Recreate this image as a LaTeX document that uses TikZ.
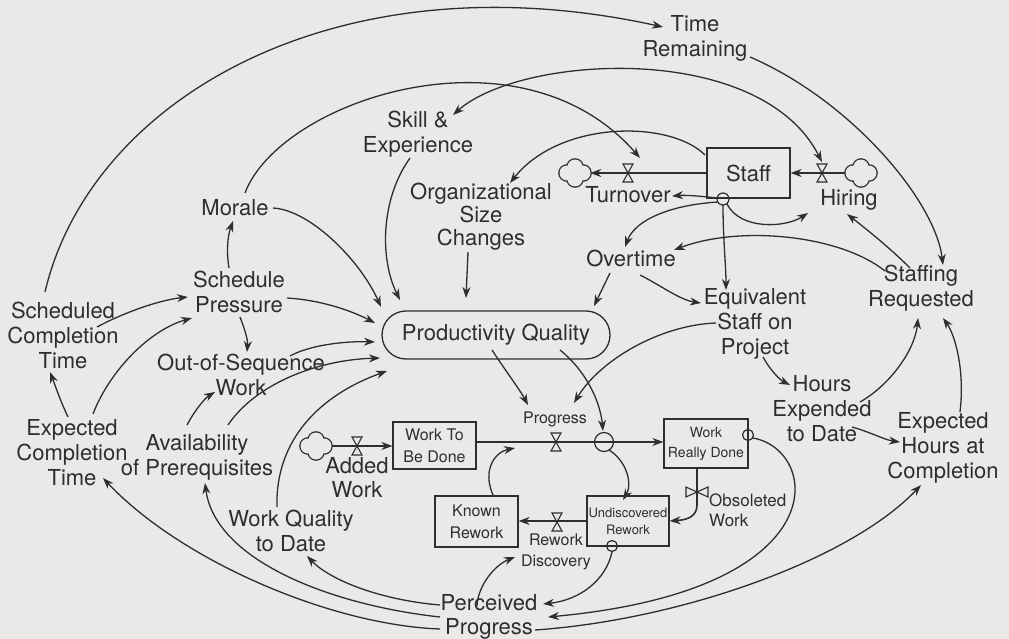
\documentclass[tikz,border=0pt]{standalone}
\usepackage{fontspec}
\setmainfont{TeX Gyre Heros}
\usetikzlibrary{arrows.meta,calc}
\definecolor{bg}{RGB}{233,233,231}
\definecolor{ink}{RGB}{46,46,46}
\begin{document}
\begin{tikzpicture}[x=1pt,y=-1pt,
  >={Stealth[length=11pt,width=8pt,inset=3.5pt]},
  lbl/.style={font=\fontsize{22}{25}\selectfont, align=center, inner sep=0pt, text=ink},
  sm/.style={font=\fontsize{16}{21}\selectfont, align=center, inner sep=0pt, text=ink},
  stock/.style={draw=ink, line width=1.2pt, fill=bg, align=center, inner sep=0pt, text=ink},
  link/.style={draw=ink, line width=1.3pt, ->},
  pipe/.style={draw=ink, line width=1.6pt, ->},
  aux/.style={circle, draw=ink, line width=1.2pt, inner sep=0pt},
  cloudspot/.style={circle, minimum size=30pt, inner sep=0pt},
  valveV/.pic={
    \draw[ink, fill=bg, line width=1.1pt] (-5,-9) -- (5,-9) -- (0,0) -- cycle;
    \draw[ink, fill=bg, line width=1.1pt] (-5,9) -- (5,9) -- (0,0) -- cycle;},
  valveH/.pic={
    \draw[ink, fill=bg, line width=1.1pt] (-11,-5) -- (-11,5) -- (0,0) -- cycle;
    \draw[ink, fill=bg, line width=1.1pt] (11,-5) -- (11,5) -- (0,0) -- cycle;},
  clover/.pic={
    \draw[ink, line width=2.6pt] (0,-6) circle (7.5) (8,0) circle (7.5) (0,6) circle (7.5) (-8,0) circle (7.5);
    \fill[bg] (0,-6) circle (7.5) (8,0) circle (7.5) (0,6) circle (7.5) (-8,0) circle (7.5);}
]
\useasboundingbox (0,0) rectangle (1009,639);
\fill[bg] (0,0) rectangle (1009,639);

% ---- variables ----
\node[lbl] (timerem) at (695,38) {Time\\Remaining};
\node[lbl] (skill) at (418,134) {Skill \&\\Experience};
\node[lbl] (morale) at (235,208) {Morale};
\node[lbl, font=\fontsize{22}{23}\selectfont] (orgsize) at (481,217) {Organizational\\Size\\Changes};
\node[lbl] (turnover) at (628,195) {Turnover};
\node[lbl] (hiring) at (849,200) {Hiring};
\node[lbl] (staffreq) at (921,288) {Staffing\\Requested};
\node[lbl] (overtime) at (631,258) {Overtime};
\node[lbl] (equiv) at (755,324) {Equivalent\\Staff on\\Project};
\node[lbl] (hours) at (822,409) {Hours\\Expended\\to Date};
\node[lbl] (exphours) at (943,448) {Expected\\Hours at\\Completion};
\node[lbl] (schedp) at (239,292) {Schedule\\Pressure};
\node[lbl] (oos) at (241,375) {Out-of-Sequence\\Work};
\node[lbl] (schedt) at (63,335) {Scheduled\\Completion\\Time};
\node[lbl] (expct) at (72,453) {Expected\\Completion\\Time};
\node[lbl] (avail) at (197,457) {Availability\\of Prerequisites};
\node[lbl] (wq) at (291,531) {Work Quality\\to Date};
\node[lbl, font=\fontsize{22}{24}\selectfont] (added) at (357,478) {Added\\Work};
\node[lbl, font=\fontsize{22}{24}\selectfont] (perc) at (489,617) {Perceived\\Progress};
\node[sm] (prog) at (555,419) {Progress};
\node[sm] (rwd) at (556,552) {Rework\\Discovery};
\node[lbl, font=\fontsize{17}{20}\selectfont, align=left, anchor=west] (obs) at (709,510) {Obsoleted\\Work};

\node[draw=ink, line width=1.3pt, rounded corners=24pt, minimum width=228pt, minimum height=48pt, lbl] (pq) at (496,335) {Productivity Quality};

% ---- stocks ----
\node[stock, font=\fontsize{22}{25}\selectfont, minimum width=83pt, minimum height=50pt] (staff) at (748.5,173) {Staff};
\node[stock, font=\fontsize{16}{22}\selectfont, minimum width=83pt, minimum height=47pt] (wtbd) at (434.5,445.5) {Work To\\Be Done};
\node[stock, font=\fontsize{14}{20}\selectfont, minimum width=84pt, minimum height=49pt] (wrd) at (706,443.5) {Work\\Really Done};
\node[stock, font=\fontsize{16}{22}\selectfont, minimum width=83pt, minimum height=51pt] (known) at (476.5,521.5) {Known\\Rework};
\node[stock, font=\fontsize{13}{17}\selectfont, minimum width=82pt, minimum height=50pt] (undisc) at (628,521) {Undiscovered\\Rework};

% ---- sources, sinks, valves, converters ----
\node[cloudspot] (tcloud) at (575,173) {};
\node[cloudspot] (hcloud) at (861,173) {};
\node[cloudspot] (acloud) at (316,446) {};
\coordinate (tvalve) at (628,173);
\coordinate (hvalve) at (822,173);
\coordinate (avalve) at (357,446);
\coordinate (pvalve) at (556,442);
\coordinate (rvalve) at (557,522);
\coordinate (ovalve) at (697,492);
\node[aux, minimum size=12pt] (scirc) at (723,199) {};
\node[aux, minimum size=19pt] (pcirc) at (604,442) {};
\node[aux, minimum size=11pt] (ucirc) at (612,546) {};
\node[aux, minimum size=11pt] (wcirc) at (748,435) {};

% ---- flows ----
\draw[pipe] (staff.west) -- (tcloud.east);
\draw[pipe] (hcloud.west) -- (staff.east);
\draw[pipe] (acloud.east) -- (wtbd.west |- acloud);
\draw[pipe] (wtbd.east |- pcirc) -- (wrd.west |- pcirc);
\draw[pipe] (undisc.west) -- (known.east |- undisc.west);
\draw[pipe] (wrd.south -| ovalve) -- ($(ovalve)+(0,13)$) .. controls ($(ovalve)+(0,26)$) and ($(undisc.east)+(15,-1)$) .. (undisc.east);

% ---- causal links ----
\draw[link] ($(schedt)+(-18,-43)$) .. controls (90,100) and (335,-45) .. ($(timerem)+(-32,-11)$);
\draw[link] ($(morale)+(10,-15)$) .. controls (280,100) and (520,20) .. ($(tvalve)+(12,-15)$);
\draw[link, <->] ($(skill)+(35,-19)$) .. controls (520,55) and (760,40) .. ($(hvalve)+(0,-11)$);
\draw[link] ($(staff)+(-43.5,-18)$) .. controls (670,120) and (560,120) .. ($(orgsize)+(29,-34)$);
\draw[link] ($(skill)+(-8,24)$) .. controls (380,200) and (380,260) .. ($(pq)+(-96,-35)$);
\draw[link] ($(orgsize)+(-13,35)$) -- ($(pq)+(-30,-37)$);
\draw[link] ($(morale)+(38,0)$) .. controls (310,210) and (360,260) .. ($(pq)+(-115,-28)$);
\draw[link] ($(schedp)+(-10,-24)$) .. controls (226,250) and (228,235) .. ($(morale)+(-2,13)$);
\draw[link] ($(schedp)+(48,6)$) .. controls (320,300) and (350,310) .. ($(pq)+(-121,-12)$);
\draw[link] ($(schedp)+(1,25)$) .. controls (245,330) and (248,340) .. ($(oos)+(6,-23)$);
\draw[link] ($(oos)+(49,-19)$) .. controls (310,345) and (345,341) .. ($(pq)+(-121,7)$);
\draw[link] ($(avail)+(-10,-32)$) .. controls (195,410) and (205,398) .. ($(oos)+(-26,17)$);
\draw[link] ($(avail)+(31,-32)$) .. controls (255,385) and (315,360) .. ($(pq)+(-116,23)$);
\draw[link] ($(wq)+(-14,-24)$) .. controls (275,440) and (320,395) .. ($(pq)+(-109,36)$);
\draw[link] ($(schedt)+(34,-8)$) .. controls (125,312) and (160,300) .. ($(schedp)+(-51,5)$);
\draw[link] ($(expct)+(-4,-36)$) .. controls (60,400) and (55,385) .. ($(schedt)+(-13,37)$);
\draw[link] ($(expct)+(21,-39)$) .. controls (110,370) and (150,330) .. ($(schedp)+(-47,26)$);
\draw[link] ($(equiv)+(-39,-1)$) .. controls (660,325) and (600,360) .. ($(prog)+(19,-16)$);
\draw[link] ($(overtime)+(9,17)$) .. controls (660,285) and (680,300) .. ($(equiv)+(-54,-21)$);
\draw[link] ($(overtime)+(-21,15)$) -- ($(pq)+(98,-29)$);
\draw[link] ($(scirc)+(-6,-1)$) .. controls (700,196) and (685,195) .. ($(turnover)+(44,1)$);
\draw[link] ($(scirc)+(-5,3)$) .. controls (670,205) and (635,220) .. ($(overtime)+(-6,-11)$);
\draw[link] ($(scirc)+(0,6)$) .. controls (723,240) and (726,265) .. ($(equiv)+(-29,-34)$);
\draw[link] ($(scirc)+(4,5)$) .. controls (740,230) and (785,228) .. ($(hiring)+(-41,13)$);
\draw[link] ($(staffreq)+(-11,-20)$) .. controls (890,248) and (865,228) .. ($(hiring)+(-2,14)$);
\draw[link] ($(staffreq)+(-36,-17)$) .. controls (840,235) and (740,225) .. ($(overtime)+(43,-8)$);
\draw[link] ($(timerem)+(55,19)$) .. controls (850,100) and (935,200) .. ($(staffreq)+(22,-23)$);
\draw[link] ($(equiv)+(8,33)$) .. controls (770,370) and (780,380) .. ($(hours)+(-32,-24)$);
\draw[link] ($(hours)+(38,-7)$) .. controls (890,385) and (915,350) .. ($(staffreq)+(-3,30)$);
\draw[link] ($(exphours)+(17,-36)$) .. controls (965,370) and (955,335) .. ($(staffreq)+(22,30)$);
\draw[link] ($(hours)+(30,18)$) .. controls (870,432) and (885,440) .. ($(exphours)+(-43,-6)$);
\draw[link] ($(pq)+(-4,15)$) .. controls (505,370) and (520,390) .. ($(prog)+(-27,-14)$);
\draw[link] ($(pq)+(64,15)$) .. controls (585,370) and (600,400) .. ($(pcirc)+(-1,-11)$);
\draw[link] ($(pcirc)+(5,8)$) .. controls (628,462) and (632,485) .. ($(undisc)+(-5,-21)$);
\draw[link] ($(known)+(16.5,-26.5)$) .. controls (482,470) and (495,452) .. ($(wtbd)+(80.5,2.5)$);
\draw[link] ($(ucirc)+(0,6)$) .. controls (606,580) and (580,600) .. ($(perc)+(54,-13)$);
\draw[link] ($(wcirc)+(5,3)$) .. controls (820,450) and (840,590) .. ($(perc)+(59,0)$);
\draw[link] ($(perc)+(46,13)$) .. controls (680,620) and (850,560) .. ($(exphours)+(-22,37)$);
\draw[link] ($(perc)+(-12,-11)$) .. controls (478,585) and (495,565) .. ($(rwd)+(-41,5)$);
\draw[link] ($(perc)+(-49,-12)$) .. controls (380,600) and (330,580) .. ($(wq)+(16,25)$);
\draw[link] ($(perc)+(-49,0)$) .. controls (330,605) and (215,560) .. ($(avail)+(8,26)$);
\draw[link] ($(perc)+(-49,12)$) .. controls (330,625) and (180,560) .. ($(expct)+(31,25)$);

% ---- valve and cloud symbols on top of the pipes ----
\pic at (tvalve) {valveV};
\pic at (hvalve) {valveV};
\pic at (avalve) {valveV};
\pic at (pvalve) {valveV};
\pic at (rvalve) {valveV};
\pic at (ovalve) {valveH};
\pic at (tcloud) {clover};
\pic at (hcloud) {clover};
\pic at (acloud) {clover};
\end{tikzpicture}
\end{document}
